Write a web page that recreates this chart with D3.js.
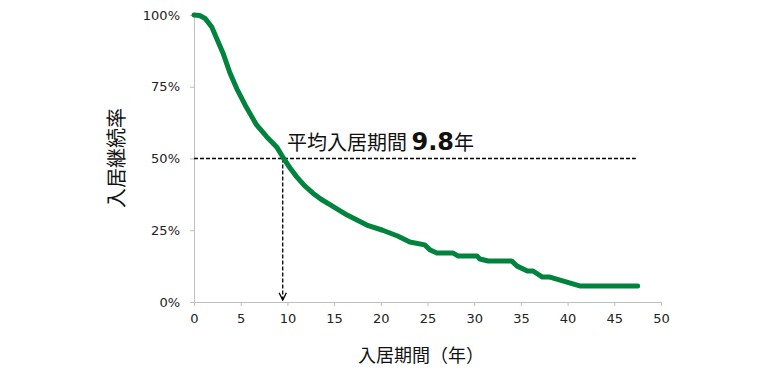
<!DOCTYPE html>
<html>
<head>
<meta charset="utf-8">
<script src="https://cdn.jsdelivr.net/npm/d3@7"></script>
<style>
  body { margin: 0; background: #fff; }
  text { font-family: "DejaVu Sans", "Noto Sans CJK JP", sans-serif; }
  .jp { font-family: "Noto Sans CJK JP", sans-serif; }
</style>
</head>
<body>
<div id="chart"></div>
<script>
// Survival curve
var years = [0, 0.6, 1.2, 1.9, 2.5, 3.1, 3.85, 4.6, 5.5, 6.2, 6.7, 7.8, 8.9, 9.6, 10.3, 11.0, 11.8, 12.7, 13.6, 14.6, 16.4,
             18.5, 20.2, 21.8, 23.1, 24.7, 25.3, 26.0, 27.7, 28.3, 30.3, 30.6, 31.5, 34.0,
             34.6, 35.7, 36.3, 37.3, 38.1, 41.3, 47.5];
var rates = [100, 99.8, 98.8, 95.8, 91.3, 86.8, 79.8, 74.2, 68.5, 64.5, 61.7, 57.5, 53.8, 50, 46.6, 43.6, 40.6, 38, 35.8, 33.8, 30.3,
             26.8, 25, 23, 20.9, 19.9, 18.1, 17.1, 17.1, 16, 16, 15, 14.3, 14.3,
             12.5, 10.8, 10.8, 8.7, 8.7, 5.6, 5.6];
var xTicks = [0, 5, 10, 15, 20, 25, 30, 35, 40, 45, 50];
var yTicks = [0, 25, 50, 75, 100];
var meanYears = 9.5;   // where the arrow drops
var meanLabel = "9.8";
var dashEnd = 47.3;

var w = 774, h = 390;
var x = d3.scaleLinear().domain([0, 50]).range([194, 661]);
var y = d3.scaleLinear().domain([0, 100]).range([302, 15]);

var svg = d3.select("#chart").append("svg").attr("width", w).attr("height", h);

svg.append("defs").append("marker")
  .attr("id", "arrow").attr("viewBox", "0 0 10 10")
  .attr("refX", 9).attr("refY", 5)
  .attr("markerWidth", 7).attr("markerHeight", 7)
  .attr("orient", "auto")
  .append("path").attr("d", "M1,1 L9,5 L1,9")
  .attr("fill", "none").attr("stroke", "#000").attr("stroke-width", 1.5);

// axes
var xAxis = svg.append("g").attr("transform", "translate(0," + y(0) + ")")
  .call(d3.axisBottom(x).tickValues(xTicks).tickSize(4).tickPadding(8).tickFormat(d3.format("d")));
var yAxis = svg.append("g").attr("transform", "translate(" + x(0) + ",0)")
  .call(d3.axisLeft(y).tickValues(yTicks).tickSize(4).tickPadding(10).tickFormat(function(d){ return d + "%"; }));
[xAxis, yAxis].forEach(function(a){
  a.select(".domain").attr("stroke", "#bfbfbf");
  a.selectAll(".tick line").attr("stroke", "#bfbfbf");
  a.selectAll(".tick text").attr("font-size", "13px").attr("fill", "#222")
    .attr("font-family", "DejaVu Sans, sans-serif");
});

// dashed guides
svg.append("line")
  .attr("x1", x(0)).attr("x2", x(dashEnd)).attr("y1", y(50)).attr("y2", y(50))
  .attr("stroke", "#000").attr("stroke-width", 1.3).attr("stroke-dasharray", "4,2");
svg.append("line")
  .attr("x1", x(meanYears)).attr("x2", x(meanYears)).attr("y1", y(50)).attr("y2", y(0) - 2)
  .attr("stroke", "#000").attr("stroke-width", 1.3).attr("stroke-dasharray", "4,2")
  .attr("marker-end", "url(#arrow)");

// survival line
var line = d3.line().x(function(d){ return x(d[0]); }).y(function(d){ return y(d[1]); });
svg.append("path")
  .datum(d3.zip(years, rates))
  .attr("d", line)
  .attr("fill", "none").attr("stroke", "#00843d").attr("stroke-width", 5)
  .attr("stroke-linejoin", "round").attr("stroke-linecap", "round");

// annotation
var ann = svg.append("text").attr("x", 287).attr("y", 150).attr("class", "jp").attr("fill", "#111");
ann.append("tspan").attr("font-size", "20px").text("平均入居期間 ");
ann.append("tspan").attr("font-size", "24px").attr("font-weight", "bold")
  .attr("font-family", "DejaVu Sans, sans-serif").text(meanLabel);
ann.append("tspan").attr("font-size", "20px").text("年");

// axis titles
svg.append("text").attr("class", "jp").attr("x", 421).attr("y", 362)
  .attr("text-anchor", "middle").attr("font-size", "18px").attr("fill", "#111").text("入居期間（年）");
svg.append("text").attr("class", "jp")
  .attr("transform", "translate(124,158) rotate(-90)")
  .attr("text-anchor", "middle").attr("font-size", "20px").attr("fill", "#111").text("入居継続率");
</script>
</body>
</html>
